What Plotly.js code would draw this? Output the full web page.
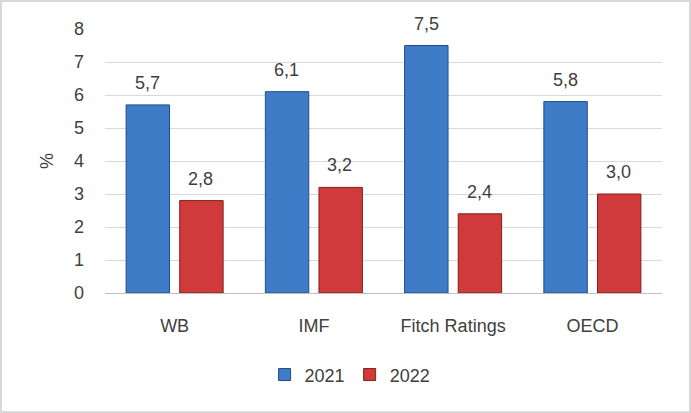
<!DOCTYPE html>
<html>
<head>
<meta charset="utf-8">
<script src="https://cdn.plot.ly/plotly-3.0.1.min.js"></script>
<style>
  body { margin: 0; background: #fff; }
  #chart { width: 691px; height: 413px; box-sizing: border-box; border: 2px solid #d9d9d9; }
</style>
</head>
<body>
<div id="chart"></div>
<script>
var sources = ['WB', 'IMF', 'Fitch Ratings', 'OECD'];
var growth2021 = [5.7, 6.1, 7.5, 5.8];
var growth2022 = [2.8, 3.2, 2.4, 3.0];

var fontName = 'Liberation Sans, Arial, sans-serif';
var textColor = '#404040';

var trace1 = {
  x: sources,
  y: growth2021,
  name: '2021',
  type: 'bar',
  marker: { color: 'rgb(62,124,200)', line: { color: 'rgb(35,75,130)', width: 1 } }
};

var trace2 = {
  x: sources,
  y: growth2022,
  name: '2022',
  type: 'bar',
  marker: { color: 'rgb(208,58,58)', line: { color: 'rgb(130,30,30)', width: 1 } }
};

// value labels above the bars, shifted over each bar of the group
var labels = [];
function addLabels(values, shift) {
  for (var i = 0; i < values.length; i++) {
    labels.push({
      xref: 'x', yref: 'y',
      x: sources[i], y: values[i],
      text: values[i].toFixed(1).replace('.', ','),
      showarrow: false,
      xshift: shift, yshift: 10,
      yanchor: 'bottom',
      font: { family: fontName, size: 18, color: textColor }
    });
  }
}
addLabels(growth2021, -27);
addLabels(growth2022, 26);

var layout = {
  width: 687,
  height: 409,
  margin: { l: 103, r: 27, t: 27, b: 118 },
  separators: ',.',
  barmode: 'group',
  bargap: 0.23,
  bargroupgap: 0.19,
  font: { family: fontName, size: 18, color: textColor },
  showlegend: true,
  legend: {
    orientation: 'h',
    x: 0.44, xanchor: 'center',
    y: -0.31, yanchor: 'middle',
    font: { size: 18, color: textColor }
  },
  annotations: labels,
  xaxis: {
    showgrid: false,
    showline: true,
    linecolor: '#bfbfbf',
    linewidth: 1,
    ticks: '',
    ticklabelstandoff: 16
  },
  yaxis: {
    range: [0, 8],
    dtick: 1,
    showgrid: true,
    gridcolor: '#d9d9d9',
    zeroline: false,
    ticks: '',
    ticklabelstandoff: 20,
    title: { text: '%', standoff: 15, font: { size: 18, color: textColor } }
  },
  plot_bgcolor: '#fff',
  paper_bgcolor: '#fff'
};

Plotly.newPlot('chart', [trace1, trace2], layout, { displayModeBar: false });
</script>
</body>
</html>
